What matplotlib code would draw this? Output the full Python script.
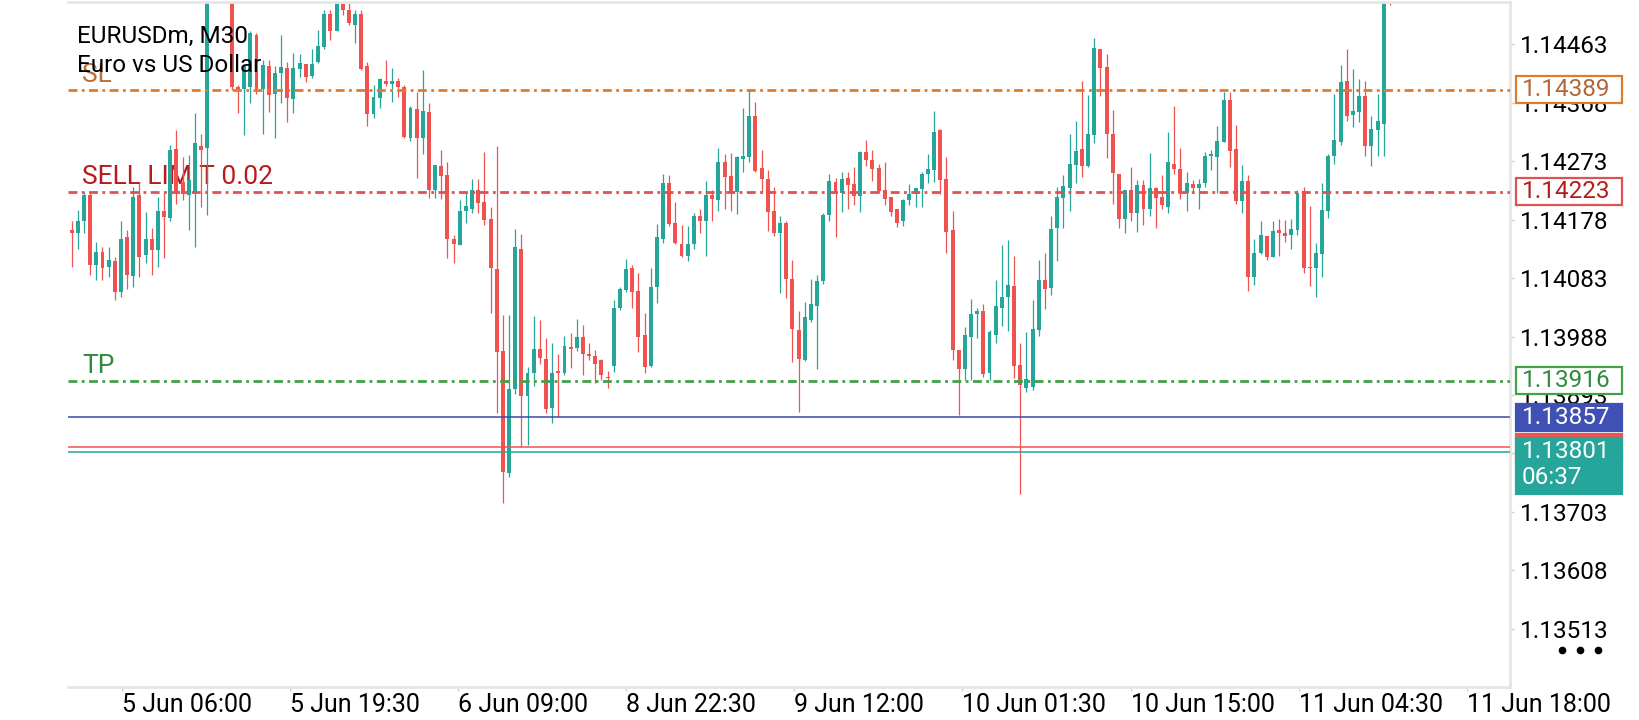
import numpy as np
import matplotlib
matplotlib.use("Agg")
import matplotlib.pyplot as plt
from matplotlib.patches import Rectangle
from matplotlib.lines import Line2D
from matplotlib.transforms import blended_transform_factory

plt.rcParams['font.family'] = ['Roboto', 'DejaVu Sans']

# EURUSDm M30 candles
opens = [
    1.14161, 1.14156, 1.14175, 1.14218, 1.14104, 1.14125, 1.14101, 1.14111, 1.14061, 1.14149,
    1.14086, 1.14218, 1.14120, 1.14147, 1.14128, 1.14192, 1.14180, 1.14293, 1.14240, 1.14218,
    1.14223, 1.14298, 1.14294, 1.14557, 1.14578, 1.14568, 1.14551, 1.14393, 1.14391, 1.14393,
    1.14478, 1.14391, 1.14428, 1.14383, 1.14417, 1.14424, 1.14374, 1.14423, 1.14431, 1.14411,
    1.14435, 1.14459, 1.14513, 1.14485, 1.14528, 1.14519, 1.14494, 1.14513, 1.14427, 1.14350,
    1.14375, 1.14403, 1.14399, 1.14403, 1.14394, 1.14311, 1.14358, 1.14310, 1.14353, 1.14226,
    1.14266, 1.14250, 1.14146, 1.14137, 1.14192, 1.14195, 1.14227, 1.14207, 1.14179, 1.14098,
    1.13964, 1.13766, 1.13902, 1.14131, 1.13891, 1.13928, 1.13967, 1.13952, 1.13872, 1.13932,
    1.13929, 1.13971, 1.13970, 1.13987, 1.13959, 1.13957, 1.13950, 1.13921, 1.13940, 1.14035,
    1.14063, 1.14099, 1.14062, 1.13990, 1.13940, 1.14069, 1.14146, 1.14237, 1.14172, 1.14139,
    1.14119, 1.14138, 1.14184, 1.14175, 1.14218, 1.14210, 1.14271, 1.14249, 1.14223, 1.14277,
    1.14280, 1.14346, 1.14262, 1.14244, 1.14192, 1.14157, 1.14173, 1.14082, 1.13999, 1.13950,
    1.14015, 1.14037, 1.14079, 1.14185, 1.14239, 1.14221, 1.14245, 1.14236, 1.14217, 1.14288,
    1.14275, 1.14262, 1.14226, 1.14214, 1.14195, 1.14176, 1.14210, 1.14219, 1.14228, 1.14252,
    1.14259, 1.14324, 1.14244, 1.14161, 1.13966, 1.13936, 1.13988, 1.14024, 1.14029, 1.13928,
    1.13991, 1.14034, 1.14053, 1.14070, 1.13942, 1.13904, 1.13906, 1.13998, 1.14080, 1.14067,
    1.14165, 1.14214, 1.14230, 1.14267, 1.14293, 1.14265, 1.14316, 1.14455, 1.14426, 1.14318,
    1.14253, 1.14179, 1.14226, 1.14188, 1.14235, 1.14196, 1.14229, 1.14214, 1.14199, 1.14269,
    1.14260, 1.14221, 1.14236, 1.14230, 1.14238, 1.14282, 1.14280, 1.14305, 1.14372, 1.14293,
    1.14208, 1.14241, 1.14085, 1.14124, 1.14151, 1.14118, 1.14161, 1.14156, 1.14153, 1.14161,
    1.14225, 1.14101, 1.14100, 1.14122, 1.14192, 1.14282, 1.14305, 1.14404, 1.14348, 1.14353,
    1.14379, 1.14298, 1.14323, 1.14333, 1.14559,
]
highs = [
    1.14175, 1.14194, 1.14223, 1.14223, 1.14142, 1.14134, 1.14134, 1.14118, 1.14175, 1.14161,
    1.14231, 1.14237, 1.14191, 1.14164, 1.14215, 1.14221, 1.14299, 1.14324, 1.14280, 1.14283,
    1.14351, 1.14318, 1.14573, 1.14589, 1.14600, 1.14584, 1.14559, 1.14397, 1.14429, 1.14484,
    1.14481, 1.14437, 1.14437, 1.14427, 1.14478, 1.14435, 1.14449, 1.14448, 1.14431, 1.14456,
    1.14487, 1.14519, 1.14519, 1.14540, 1.14535, 1.14530, 1.14519, 1.14519, 1.14435, 1.14397,
    1.14408, 1.14437, 1.14424, 1.14408, 1.14397, 1.14363, 1.14386, 1.14421, 1.14367, 1.14267,
    1.14291, 1.14272, 1.14153, 1.14210, 1.14223, 1.14244, 1.14244, 1.14288, 1.14198, 1.14298,
    1.14023, 1.14023, 1.14163, 1.14155, 1.13938, 1.14021, 1.14015, 1.13985, 1.13978, 1.13959,
    1.13989, 1.13994, 1.14017, 1.14007, 1.13977, 1.13966, 1.13951, 1.13932, 1.14047, 1.14069,
    1.14114, 1.14104, 1.14091, 1.14026, 1.14100, 1.14171, 1.14252, 1.14250, 1.14207, 1.14169,
    1.14168, 1.14188, 1.14196, 1.14241, 1.14227, 1.14295, 1.14285, 1.14286, 1.14281, 1.14359,
    1.14389, 1.14370, 1.14291, 1.14259, 1.14231, 1.14184, 1.14175, 1.14113, 1.14030, 1.14044,
    1.14082, 1.14088, 1.14188, 1.14253, 1.14245, 1.14256, 1.14256, 1.14263, 1.14290, 1.14307,
    1.14292, 1.14268, 1.14271, 1.14215, 1.14196, 1.14211, 1.14236, 1.14229, 1.14256, 1.14285,
    1.14355, 1.14326, 1.14280, 1.14192, 1.13966, 1.14004, 1.14049, 1.14034, 1.14041, 1.13998,
    1.14080, 1.14136, 1.14145, 1.14119, 1.13978, 1.13996, 1.14047, 1.14112, 1.14123, 1.14184,
    1.14231, 1.14250, 1.14318, 1.14338, 1.14403, 1.14381, 1.14474, 1.14455, 1.14447, 1.14356,
    1.14253, 1.14226, 1.14263, 1.14243, 1.14242, 1.14287, 1.14231, 1.14250, 1.14320, 1.14363,
    1.14295, 1.14255, 1.14242, 1.14244, 1.14288, 1.14292, 1.14331, 1.14386, 1.14386, 1.14332,
    1.14267, 1.14250, 1.14147, 1.14176, 1.14151, 1.14176, 1.14179, 1.14177, 1.14179, 1.14227,
    1.14231, 1.14200, 1.14140, 1.14238, 1.14284, 1.14382, 1.14429, 1.14456, 1.14423, 1.14407,
    1.14403, 1.14346, 1.14382, 1.14568, 1.14568,
]
lows = [
    1.14101, 1.14131, 1.14156, 1.14088, 1.14080, 1.14080, 1.14085, 1.14047, 1.14053, 1.14066,
    1.14069, 1.14085, 1.14107, 1.14088, 1.14101, 1.14115, 1.14175, 1.14204, 1.14210, 1.14161,
    1.14134, 1.14199, 1.14185, 1.14549, 1.14562, 1.14543, 1.14389, 1.14351, 1.14315, 1.14367,
    1.14383, 1.14318, 1.14353, 1.14310, 1.14367, 1.14336, 1.14352, 1.14410, 1.14401, 1.14408,
    1.14432, 1.14455, 1.14470, 1.14484, 1.14511, 1.14494, 1.14465, 1.14421, 1.14330, 1.14343,
    1.14359, 1.14395, 1.14370, 1.14377, 1.14311, 1.14306, 1.14246, 1.14285, 1.14214, 1.14214,
    1.14211, 1.14115, 1.14107, 1.14137, 1.14173, 1.14188, 1.14189, 1.14169, 1.14027, 1.13863,
    1.13718, 1.13759, 1.13895, 1.13808, 1.13811, 1.13908, 1.13943, 1.13863, 1.13847, 1.13857,
    1.13926, 1.13937, 1.13965, 1.13926, 1.13950, 1.13913, 1.13917, 1.13905, 1.13931, 1.14031,
    1.14061, 1.14035, 1.13963, 1.13929, 1.13939, 1.14043, 1.14140, 1.14168, 1.14139, 1.14118,
    1.14111, 1.14130, 1.14157, 1.14119, 1.14176, 1.14192, 1.14196, 1.14192, 1.14187, 1.14256,
    1.14272, 1.14255, 1.14223, 1.14159, 1.14152, 1.14058, 1.14051, 1.13947, 1.13866, 1.13948,
    1.14012, 1.13936, 1.14074, 1.14175, 1.14150, 1.14191, 1.14196, 1.14201, 1.14191, 1.14266,
    1.14241, 1.14222, 1.14201, 1.14184, 1.14166, 1.14168, 1.14201, 1.14199, 1.14199, 1.14237,
    1.14240, 1.14219, 1.14123, 1.13950, 1.13861, 1.13918, 1.13918, 1.13986, 1.13923, 1.13918,
    1.13978, 1.14005, 1.13997, 1.13921, 1.13732, 1.13898, 1.13901, 1.13989, 1.14032, 1.14055,
    1.14111, 1.14165, 1.14192, 1.14238, 1.14247, 1.14264, 1.14303, 1.14379, 1.14278, 1.14203,
    1.14165, 1.14157, 1.14175, 1.14158, 1.14170, 1.14184, 1.14165, 1.14196, 1.14189, 1.14252,
    1.14211, 1.14192, 1.14222, 1.14195, 1.14231, 1.14259, 1.14221, 1.14304, 1.14263, 1.14204,
    1.14188, 1.14062, 1.14072, 1.14122, 1.14112, 1.14117, 1.14119, 1.14142, 1.14131, 1.14153,
    1.14092, 1.14070, 1.14053, 1.14084, 1.14181, 1.14268, 1.14299, 1.14339, 1.14329, 1.14336,
    1.14282, 1.14266, 1.14282, 1.14282, 1.14527,
]
closes = [
    1.14156, 1.14175, 1.14218, 1.14104, 1.14125, 1.14099, 1.14112, 1.14061, 1.14147, 1.14088,
    1.14215, 1.14118, 1.14147, 1.14128, 1.14192, 1.14183, 1.14291, 1.14221, 1.14219, 1.14242,
    1.14302, 1.14291, 1.14557, 1.14578, 1.14568, 1.14551, 1.14393, 1.14390, 1.14427, 1.14481,
    1.14390, 1.14429, 1.14381, 1.14417, 1.14426, 1.14375, 1.14424, 1.14433, 1.14410, 1.14431,
    1.14460, 1.14512, 1.14485, 1.14530, 1.14519, 1.14497, 1.14513, 1.14423, 1.14349, 1.14378,
    1.14406, 1.14399, 1.14403, 1.14393, 1.14313, 1.14360, 1.14310, 1.14355, 1.14226, 1.14267,
    1.14249, 1.14147, 1.14139, 1.14192, 1.14200, 1.14226, 1.14205, 1.14177, 1.14100, 1.13963,
    1.13768, 1.13902, 1.14133, 1.13891, 1.13928, 1.13967, 1.13953, 1.13870, 1.13928, 1.13928,
    1.13972, 1.13968, 1.13987, 1.13960, 1.13957, 1.13944, 1.13926, 1.13920, 1.14035, 1.14065,
    1.14098, 1.14061, 1.13987, 1.13939, 1.14068, 1.14150, 1.14237, 1.14171, 1.14140, 1.14119,
    1.14139, 1.14184, 1.14175, 1.14218, 1.14212, 1.14272, 1.14248, 1.14223, 1.14280, 1.14281,
    1.14346, 1.14257, 1.14244, 1.14191, 1.14157, 1.14172, 1.14082, 1.14001, 1.13951, 1.14020,
    1.14041, 1.14079, 1.14185, 1.14241, 1.14221, 1.14244, 1.14234, 1.14217, 1.14288, 1.14275,
    1.14260, 1.14225, 1.14211, 1.14191, 1.14173, 1.14210, 1.14220, 1.14229, 1.14252, 1.14261,
    1.14320, 1.14242, 1.14158, 1.13966, 1.13936, 1.13990, 1.14024, 1.14029, 1.13927, 1.13996,
    1.14037, 1.14052, 1.14072, 1.13940, 1.13909, 1.13919, 1.14000, 1.14080, 1.14066, 1.14163,
    1.14215, 1.14233, 1.14268, 1.14289, 1.14266, 1.14318, 1.14457, 1.14424, 1.14318, 1.14254,
    1.14179, 1.14226, 1.14188, 1.14234, 1.14196, 1.14229, 1.14214, 1.14201, 1.14271, 1.14260,
    1.14222, 1.14237, 1.14229, 1.14236, 1.14281, 1.14285, 1.14306, 1.14372, 1.14290, 1.14208,
    1.14241, 1.14085, 1.14123, 1.14153, 1.14117, 1.14160, 1.14156, 1.14151, 1.14163, 1.14222,
    1.14100, 1.14099, 1.14123, 1.14194, 1.14282, 1.14307, 1.14402, 1.14347, 1.14355, 1.14379,
    1.14298, 1.14325, 1.14338, 1.14557, 1.14546,
]

time_labels = ['5 Jun 06:00', '5 Jun 19:30', '6 Jun 09:00', '8 Jun 22:30', '9 Jun 12:00',
               '10 Jun 01:30', '10 Jun 15:00', '11 Jun 04:30', '11 Jun 18:00']
price_ticks = [1.14463, 1.14368, 1.14273, 1.14178, 1.14083, 1.13988,
               1.13893, 1.13798, 1.13703, 1.13608, 1.13513]

sl_price = 1.14389
sell_limit_price = 1.14223
tp_price = 1.13916
position_price = 1.13857
ask_price = 1.13808
bid_price = 1.13801
countdown = '06:37'

GREEN = '#26a69a'
RED = '#ef5350'

W, H = 1640, 720
fig = plt.figure(figsize=(W / 100, H / 100), dpi=100)
# axes box in pixels: left, right, top, bottom
L, R, T, B = 68, 1510, 1.7, 687
ax = fig.add_axes([L / W, 1 - B / H, (R - L) / W, (B - T) / H])

y_lo, y_hi = 1.134185, 1.145322
ax.set_ylim(y_lo, y_hi)
ax.set_xlim(-0.6, 233.5)
ppx = (y_hi - y_lo) / (B - T)  # price per pixel

n = min(len(opens), len(highs), len(lows), len(closes))
o = np.array(opens[:n]); h = np.array(highs[:n])
l = np.array(lows[:n]); c = np.array(closes[:n])
x = np.arange(n)
cols = np.where(c >= o, GREEN, RED)

ax.vlines(x, l, h, colors=cols, lw=0.9, zorder=2)
body_h = np.maximum(np.abs(c - o), 1.3 * ppx)
ax.bar(x, body_h, bottom=np.minimum(o, c), width=0.64, color=cols, lw=0, zorder=2.1)

# order levels
dd = (3.2, 1.6, 1, 1.6)
ax.axhline(sl_price, color='#e07b2a', lw=2.0, dashes=dd, zorder=3)
ax.axhline(sell_limit_price, color='#e05252', lw=2.0, dashes=dd, zorder=3)
ax.axhline(tp_price, color='#43a047', lw=2.0, dashes=dd, zorder=3)
ax.axhline(position_price, color='#3949ab', lw=1.1, zorder=3)
ax.axhline(ask_price, color=RED, lw=1.1, zorder=3)
ax.axhline(bid_price, color=GREEN, lw=1.1, zorder=3)

tb = blended_transform_factory(ax.transAxes, ax.transData)
lab_x = (82 - L) / (R - L)
fs = 17.5
lfs = 19
ax.text(lab_x, sl_price + 8 * ppx, 'SL', transform=tb, color='#b8703a',
        fontsize=lfs, va='baseline', zorder=1.8)
ax.text(lab_x, sell_limit_price + 8 * ppx, 'SELL LIMIT 0.02', transform=tb,
        color='#b71c1c', fontsize=lfs, va='baseline', zorder=1.8)
ax.text(lab_x, tp_price + 8 * ppx, 'TP', transform=tb, color='#2e8b3d',
        fontsize=lfs, va='baseline', zorder=1.8)

# axis styling
for s in ['top', 'right', 'bottom']:
    ax.spines[s].set_color('#e6e6e6')
    ax.spines[s].set_linewidth(2)
ax.spines['left'].set_visible(False)

ax.yaxis.tick_right()
ax.set_yticks(price_ticks)
ax.set_yticklabels([f'{v:.5f}' for v in price_ticks])
ax.tick_params(axis='y', which='both', right=True, left=False, length=3,
               width=1, color='#cfcfcf', pad=4.5, labelsize=fs, labelcolor='black')

tick_pos = 8.1 + 27.3 * np.arange(len(time_labels))
ax.set_xticks(tick_pos)
ax.set_xticklabels(time_labels, ha='left')
ax.tick_params(axis='x', length=3, width=1, color='#cfcfcf', pad=1.5,
               labelsize=18, labelcolor='black')

# price boxes on the right scale
bx0 = (1516 - L) / (R - L)
bw = 106 / (R - L)
tx = (1522 - L) / (R - L)


def price_box(price, text, edge, face, tcolor, up=13.5, down=13.5, z=6):
    ax.add_patch(Rectangle((bx0, price - down * ppx), bw, (up + down) * ppx,
                           transform=tb, clip_on=False, facecolor=face,
                           edgecolor=edge, lw=1.6, zorder=z))
    ax.text(tx, price, text, transform=tb, color=tcolor, fontsize=fs,
            va='center', ha='left', clip_on=False, zorder=z + 0.5)


price_box(sl_price, f'{sl_price:.5f}', '#e07b2a', 'white', '#b0683a')
price_box(sell_limit_price, f'{sell_limit_price:.5f}', '#e05252', 'white', '#b71c1c')
price_box(tp_price, f'{tp_price:.5f}', '#43a047', 'white', '#2e8b3d')
price_box(position_price, f'{position_price:.5f}', '#3f51b5', '#3f51b5', 'white')
price_box(ask_price, '', RED, RED, 'white', z=6)
price_box(bid_price, f'{bid_price:.5f}', GREEN, GREEN, 'white', up=14, down=42, z=7)
ax.text(tx, bid_price - 26 * ppx, countdown, transform=tb, color='white',
        fontsize=fs, va='center', ha='left', clip_on=False, zorder=8)

# symbol caption
fig.text(77 / W, 1 - 43 / H, 'EURUSDm, M30', fontsize=fs, color='black', va='baseline')
fig.text(77 / W, 1 - 72 / H, 'Euro vs US Dollar', fontsize=fs, color='black', va='baseline')

# menu dots
fig.add_artist(Line2D([1562 / W, 1580 / W, 1598 / W], [1 - 650 / H] * 3,
                      transform=fig.transFigure, ls='none', marker='o',
                      ms=4.5, color='black'))

fig.savefig('out.png', dpi=100)
